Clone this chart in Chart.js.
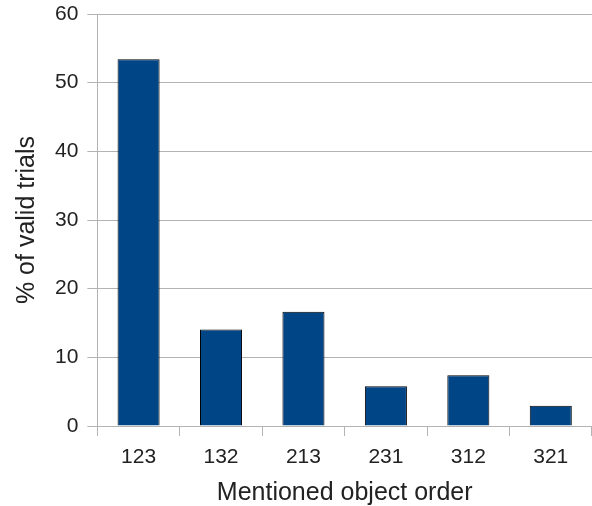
<!DOCTYPE html>
<html>
<head>
<meta charset="utf-8">
<script src="https://cdn.jsdelivr.net/npm/chart.js@4/dist/chart.umd.min.js"></script>
<style>
  html, body { margin: 0; padding: 0; background: #fff; }
  #wrap { width: 592px; height: 506px; position: relative; }
</style>
</head>
<body>
<div id="wrap"><canvas id="orderChart"></canvas></div>
<script>
const categories = ['123', '132', '213', '231', '312', '321'];
const trialShares = [53.4, 14.05, 16.65, 5.8, 7.4, 2.95];
const yTicks = [0, 10, 20, 30, 40, 50, 60];

const gridColor = '#b3b3b3';
const textColor = '#222222';
const fontFamily = '"Liberation Sans", Arial, sans-serif';

const chartCanvas = document.getElementById('orderChart');

new Chart(chartCanvas.getContext('2d'), {
  type: 'bar',
  data: {
    labels: categories,
    datasets: [
      {
        label: '% of valid trials',
        data: trialShares,
        backgroundColor: '#004586',
        borderColor: '#000000',
        borderWidth: 1,
        barPercentage: 0.51,
        categoryPercentage: 1,
      },
    ],
  },
  options: {
    responsive: true,
    maintainAspectRatio: false,
    animation: false,
    layout: {
      padding: { top: 0, right: 0, bottom: 0, left: 3 },
    },
    plugins: {
      legend: { display: false },
      tooltip: { enabled: false },
    },
    scales: {
      x: {
        afterFit: (axis) => {
          axis.height = 80;
        },
        grid: {
          display: true,
          drawOnChartArea: false,
          drawTicks: true,
          tickLength: 10,
          color: gridColor,
        },
        border: { display: true, color: gridColor },
        ticks: {
          color: textColor,
          padding: 9,
          maxRotation: 0,
          font: { family: fontFamily, size: 21 },
        },
        title: {
          display: true,
          text: 'Mentioned object order',
          color: textColor,
          padding: { top: 0, bottom: 0 },
          font: { family: fontFamily, size: 25, lineHeight: 1 },
        },
      },
      y: {
        min: yTicks[0],
        max: yTicks[yTicks.length - 1],
        afterBuildTicks: (axis) => {
          axis.ticks = yTicks.map((value) => ({ value }));
        },
        afterFit: (axis) => {
          axis.paddingTop = 14;
        },
        grid: {
          color: gridColor,
          tickLength: 10,
        },
        border: { display: true, color: gridColor },
        ticks: {
          color: textColor,
          padding: 9,
          font: { family: fontFamily, size: 21 },
        },
        title: {
          display: true,
          text: '% of valid trials',
          color: textColor,
          padding: { top: 9, bottom: 4 },
          font: { family: fontFamily, size: 25 },
        },
      },
    },
  },
});
</script>
</body>
</html>
